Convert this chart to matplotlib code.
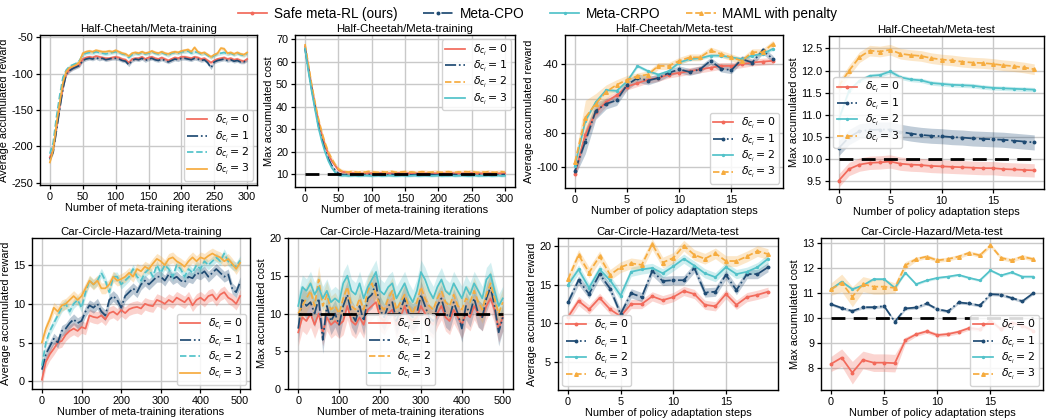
import numpy as np
import matplotlib
matplotlib.use("Agg")
import matplotlib.pyplot as plt
from matplotlib.lines import Line2D

plt.rcParams['font.family'] = ['Liberation Sans', 'DejaVu Sans']
plt.rcParams['axes.unicode_minus'] = False
plt.rcParams['mathtext.fontset'] = 'dejavusans'

# ---------------- colours / styles ----------------
C_RED = '#F26A5B'
C_BLUE = '#1F4B73'
C_CYAN = '#52C2C9'
C_ORANGE = '#F6AC3F'

METHODS = ["Safe meta-RL (ours)", "Meta-CPO", "Meta-CRPO", "MAML with penalty"]
DELTAS = [0, 1, 2, 3]
COST_LIMIT = 10

# ---------------- Half-Cheetah meta-training (x step 5, 0..300) ----------------
hc_train_x = np.arange(0, 301, 5)
hc_rew_d0 = [-215,-205,-175,-145,-118,-100,-95,-92,-90,-88,
             -80,-78,-77,-78,-76,-77,-78,-79,-79,-78,
             -77,-78,-80,-81,-85,-80,-79,-79,-77,-80,
             -78,-77,-79,-80,-78,-80,-82,-80,-78,-79,
             -77,-77,-78,-79,-77,-78,-80,-79,-82,-85,
             -82,-80,-79,-78,-80,-79,-81,-80,-82,-83,-80]
hc_rew_d1 = [-218,-208,-178,-148,-120,-100,-96,-93,-91,-89,
             -82,-80,-79,-80,-78,-80,-79,-81,-80,-79,
             -79,-80,-82,-83,-88,-82,-80,-81,-79,-82,
             -80,-79,-81,-82,-80,-82,-84,-82,-80,-81,
             -79,-79,-80,-81,-79,-80,-82,-81,-85,-92,
             -84,-82,-81,-80,-82,-81,-83,-82,-84,-84,-81]
hc_rew_d2 = [-210,-195,-160,-130,-105,-95,-90,-88,-86,-82,
             -74,-72,-71,-72,-70,-71,-72,-73,-72,-71,
             -70,-71,-73,-74,-78,-74,-72,-73,-71,-73,
             -72,-70,-72,-73,-71,-73,-75,-72,-71,-72,
             -70,-70,-69,-72,-70,-71,-73,-72,-75,-78,
             -75,-73,-72,-71,-73,-72,-74,-72,-74,-75,-72]
hc_rew_d3 = [-222,-205,-170,-140,-112,-97,-92,-90,-88,-84,
             -72,-70,-69,-70,-68,-69,-70,-70,-69,-70,
             -68,-70,-72,-73,-76,-72,-71,-72,-70,-72,
             -71,-69,-71,-72,-70,-72,-73,-71,-70,-71,
             -69,-68,-67,-70,-64,-70,-72,-71,-74,-77,
             -74,-72,-65,-66,-72,-71,-73,-71,-73,-74,-71]
hc_rew_std = [2.5, 2.5, 2.5, 2.5]

hc_cost_d0 = [67,58,49,41,34,28,23,19,16,14,
              12,11.2,11,10.8,10.6,10.5,10.6,10.4,10.5,10.6,
              10.5,10.4,10.5,10.6,10.4,10.5,10.5,10.4,10.6,10.5,
              10.4,10.5,10.6,10.5,10.4,10.5,10.4,10.5,10.6,10.4,
              10.5,10.5,10.4,10.5,10.6,10.4,10.5,10.4,10.5,10.5,
              10.6,10.4,10.5,10.4,10.5,10.5,10.4,10.5,10.4,10.5,10.5]
hc_cost_d1 = [66,57,48,40,32,26,21,17,14,12,
              10.5,10,9.9,10,9.8,9.9,10,9.8,9.9,10,
              9.9,9.8,9.9,10,9.8,9.9,10,9.9,9.8,9.9,
              10,9.9,9.8,9.9,10,9.9,9.8,9.9,10,9.8,
              9.9,10,9.9,9.8,9.9,10,9.8,9.9,10,9.9,
              9.8,9.9,10,9.9,9.8,9.9,10,9.8,9.9,9.9,10]
hc_cost_d2 = [68,59,50,42,35,29,24,20,17,14.5,
              12.5,11.5,11.2,11,11.3,11.1,10.9,11.2,11,11.3,
              11.1,11,10.9,11.2,11,11.1,11.3,11,10.9,11.1,
              11.2,11,11.1,10.9,11,11.2,11.1,10.9,11,11.2,
              11,10.9,11.1,11.2,11,10.9,11.1,11,11.2,11.1,
              11.3,11,10.9,11.1,11,11.2,11,10.9,11.1,11.2,11]
hc_cost_d3 = [66,56,47,39,31,25,20,16,13,11,
              9.6,9.4,9.5,9.3,9.4,9.5,9.3,9.4,9.5,9.4,
              9.3,9.4,9.5,9.3,9.4,9.5,9.4,9.3,9.4,9.5,
              9.4,9.3,9.4,9.5,9.3,9.4,9.5,9.4,9.3,9.4,
              9.5,9.3,9.4,9.4,9.5,9.3,9.4,9.5,9.4,9.3,
              9.4,9.5,9.3,9.4,9.4,9.5,9.3,9.4,9.5,9.3,9.4]
hc_cost_std = [0.8, 0.5, 0.9, 0.5]

# ---------------- Half-Cheetah meta-test (steps 0..19) ----------------
steps = np.arange(20)
hct_rew_d0 = [-104,-81,-68,-62,-58,-53,-51,-49,-48,-46,-45,-44,-43,-42,-41,-41,-40,-39,-38.5,-38]
hct_rew_d1 = [-102,-85,-67,-63,-61,-52,-48,-49.5,-48,-45,-43,-44.5,-43,-38,-42.5,-43.5,-37,-39,-32,-37]
hct_rew_d2 = [-99,-73,-62,-55,-55.5,-50,-41,-44,-46,-44,-39,-37,-36.5,-35,-35,-36,-37,-35,-34,-31]
hct_rew_d3 = [-97,-71,-63,-56,-52,-49,-47,-46,-41,-41,-38,-36,-36,-32,-34,-36,-38,-33,-33,-28]
hct_rew_std_d0 = [3,4,3,2.5,2.5,2,2,2,2,2,2,2,2,2,2,2,2,2,2,2]
hct_rew_std_d1 = [3,7,5,3,3,3,2.5,2.5,2,2,2,2,2,2,2,2,2,2,2,2]
hct_rew_std_d2 = [1,1,1,1,1,1,1,1,1,1,1,1,1,1,1,1,1,1,1,1]
hct_rew_std_d3 = [3,10,6,4,3,2.5,2,2,2,2,2,2,2,2,2,2,2,2,2,2]

hct_cost_d0 = [9.52,9.78,9.88,9.92,9.93,9.95,9.9,9.88,9.87,9.85,9.84,9.83,9.82,9.81,9.8,9.8,9.78,9.77,9.76,9.75]
hct_cost_d1 = [10.25,10.5,10.63,10.66,10.67,10.67,10.62,10.58,10.55,10.53,10.52,10.5,10.49,10.47,10.46,10.45,10.44,10.42,10.4,10.38]
hct_cost_d2 = [10.9,11.55,11.77,11.88,11.9,11.98,11.85,11.8,11.78,11.72,11.7,11.68,11.67,11.66,11.63,11.61,11.6,11.59,11.58,11.57]
hct_cost_d3 = [11.65,12.0,12.3,12.45,12.43,12.47,12.38,12.35,12.33,12.28,12.25,12.23,12.2,12.18,12.17,12.15,12.12,12.1,12.07,12.03]
hct_cost_std = [0.15, 0.17, 0.05, 0.12]

# ---------------- Car-Circle-Hazard meta-training (x step 10, 0..500) ----------------
cc_train_x = np.arange(0, 501, 10)
cc_rew_d0 = [0.2,2.5,3.5,4.2,5,5.2,6,6.5,6.8,6.5,
             7,6.8,8.5,8.3,8.2,8.5,8,8.8,9,8.6,
             9.2,8.8,9.3,9.5,9.6,9.4,10,9.8,9.7,10.5,
             10.3,10,10.5,10.2,10.8,10.5,10.2,10.8,9.8,10.5,
             10.8,10.4,11,11.2,10.5,11.2,11.5,10.8,10.5,10.0,11]
cc_rew_d1 = [1.5,3.5,4.5,5.5,5,6.5,6.8,7.5,8,7.5,
             7.8,9,9.8,9.5,10,9,8.5,10.5,11,10.5,
             9.5,11,11.5,12,11.5,12.5,13,12.5,13,13.5,
             13.5,13,13.8,13.2,13.5,13,12.8,13.5,13.3,14,
             13.8,14.2,13.5,14,14.5,14,13.5,13.8,12,11.5,12.8]
cc_rew_d2 = [2,5,6.5,7.5,8.5,9.5,10,9,10,10.5,
             9.5,11.5,13,12.5,13,14,13,11.5,13.5,13.5,
             12.5,13,13.5,14.5,13.5,13,14,14.5,13.5,15,
             14,15,14.5,13.5,15,14.5,13.5,14.5,14,15,
             14.5,15.5,15,15.5,16,15.5,16.5,15.5,15,14.8,15.6]
cc_rew_d3 = [5,6.8,8,9.5,9,9.8,10,10.5,11,10.5,
             11,12,13,12.5,13,12,12,12.5,13.5,13,
             13.2,13.5,14,13.5,14.5,14.2,14.8,14.5,15.2,15.8,
             15.5,15,15.8,16,15.5,15.2,14.8,15.5,16,15.5,
             16,15.8,16.2,16.5,16.2,16,15.5,15.8,15.2,14.5,15.3]
cc_rew_std = [0.8, 0.7, 0.6, 0.7]

cc_cost_d0 = [7.5,9.5,9,10,8.5,10,7.5,9.5,8.5,9,
              8.5,9,11,9,8.5,9.5,8.5,10.5,11,11.5,
              9.5,9,10,10.5,8.5,9.5,11,9.5,9,9.5,
              11,10,9,8.5,10,11,9.5,9,10.5,9.5,
              8.5,10,9.5,11,10,9.5,11,12,10.5,8,9.5]
cc_cost_d1 = [8,12,11,11.5,10,12,6.5,11,9,10,
              8.5,11,12.5,10,9,11,9,12,12.5,14,
              10.5,9.5,11,11.5,9,10.5,12,10,9.5,10,
              12.5,11,9.5,9,11,12,10,9.5,11.5,10,
              8,11,10,12,10,9.5,12,13.5,11,7.5,9.5]
cc_cost_d2 = [10,11,12,13,11,14.5,11,12.5,10.5,11,
              10,12,13.5,11,10.5,12,10.5,13,14,12.5,
              11,10.5,12,13,10.5,11.5,12.5,11,10,11.5,
              13.5,12,11,10.5,12,13,11.5,11,12.5,11,
              10.5,12,11.5,13,11.5,10.5,12.5,14,12,10,11.5]
cc_cost_d3 = [11,13.5,13,14,12.5,13.5,12,13,11.5,12,
              11.5,14,15,13,12.5,14,12,13.5,14.5,15.5,
              13,12.5,13.5,14,12,13,14,12.5,11.5,13,
              15.5,14.5,13,12,13.5,14.5,13,12.5,14,13,
              12,13.5,12.5,14,13,12,14.5,15.2,13,11,12]
cc_cost_std = [1.8, 1.8, 1.8, 1.6]

# ---------------- Car-Circle-Hazard meta-test (steps 0..19) ----------------
cct_rew_d0 = [10.8,12.9,11.8,13.3,11.8,10.9,12.5,12.5,13.5,13.0,13.4,14.2,13.8,12.4,12.2,13.8,12.4,13.4,13.7,14.1]
cct_rew_d1 = [12.7,15.6,13.8,16.4,14.5,11.2,13.9,13.4,16.8,15.5,15.6,15.6,17.2,14.0,14.1,16.3,14.3,16.4,16.4,17.3]
cct_rew_d2 = [15.0,17.0,14.6,17.0,15.6,13.6,16.7,17.0,17.2,16.5,17.4,18.4,17.5,16.5,16.0,17.3,16.4,16.7,17.3,18.4]
cct_rew_d3 = [15.7,18.9,16.6,18.7,16.3,17.3,17.8,17.6,20.3,17.9,18.5,20.1,18.9,18.4,19.1,18.1,18.1,18.7,19.4,19.0]
cct_rew_std = [0.6, 0.6, 0.6, 0.7]

cct_cost_d0 = [8.17,8.42,7.82,8.33,8.22,8.22,8.2,9.12,9.35,9.47,9.32,9.36,9.45,9.6,9.55,9.9,9.55,9.82,9.7,9.5]
cct_cost_d1 = [10.55,10.4,10.28,10.43,10.43,10.47,9.85,10.38,10.42,10.58,10.35,10.27,10.62,10.58,10.5,10.95,10.93,10.8,10.67,10.98]
cct_cost_d2 = [11.15,11.45,11.15,11.3,11.55,11.55,11.2,11.8,11.35,11.5,11.6,11.65,11.72,11.6,11.5,11.9,11.7,11.82,11.65,11.65]
cct_cost_d3 = [11.15,11.4,10.85,11.35,11.25,11.25,11.2,12.1,12.35,12.45,12.3,12.35,12.45,12.6,12.5,12.9,12.4,12.3,12.45,12.35]
cct_cost_std_d0 = [0.3,0.35,0.45,0.35,0.35,0.35,0.35,0.12,0.08,0.08,0.08,0.08,0.08,0.08,0.08,0.08,0.08,0.08,0.08,0.08]
cct_cost_std_d1 = [0.06]*20
cct_cost_std_d2 = [0.05]*20
cct_cost_std_d3 = [0.25,0.35,0.4,0.3,0.3,0.3,0.2,0.15,0.08,0.08,0.08,0.08,0.08,0.08,0.08,0.08,0.08,0.08,0.08,0.08]

# ---------------- figure ----------------
W, H = 1046, 419
fig = plt.figure(figsize=(W / 100, H / 100), dpi=100)


def box(l, t, r, b):
    return [l / W, 1 - b / H, (r - l) / W, (b - t) / H]


FS_TICK = 7.8
FS_LABEL = 7.9
FS_TITLE = 8.2
FS_LEG = 7.8


def style_ax(ax, title, xlabel, ylabel):
    ax.set_facecolor('white')
    ax.grid(True, color='#c9c9c9', linewidth=1.0)
    ax.set_axisbelow(True)
    for s in ax.spines.values():
        s.set_color('black')
        s.set_linewidth(1.0)
    ax.tick_params(direction='out', length=3, width=0.9, labelsize=FS_TICK, colors='black', pad=2)
    ax.set_title(title, fontsize=FS_TITLE, pad=2.5)
    ax.set_xlabel(xlabel, fontsize=FS_LABEL, labelpad=1)
    ax.set_ylabel(ylabel, fontsize=FS_LABEL, labelpad=1.5)


def dl(d):
    return r'$\delta_{c_i}=%d$' % d


def band(ax, x, y, s, color, alpha=0.3):
    y = np.asarray(y, float)
    s = np.asarray(s, float) if np.ndim(s) else s
    ax.fill_between(x, y - s, y + s, color=color, alpha=alpha, linewidth=0)


LW = 1.25

train_style_a = [(C_RED, '-'), (C_BLUE, '-.'), (C_CYAN, '--'), (C_ORANGE, '-')]
train_style_b = [(C_RED, '-'), (C_BLUE, '-.'), (C_ORANGE, '--'), (C_CYAN, '-')]
test_style = [(C_RED, '-', 'o', 1.8), (C_BLUE, '-.', 'o', 1.8), (C_CYAN, '-', 'o', 1.4), (C_ORANGE, '--', '^', 2.6)]


def legend(ax, loc, **kw):
    lg = ax.legend(loc=loc, fontsize=FS_LEG, handlelength=1.9, borderpad=0.3,
                   labelspacing=0.12, handletextpad=0.7, borderaxespad=0.4,
                   framealpha=0.85, **kw)
    lg.get_frame().set_edgecolor('#cccccc')
    return lg


# ---- 1: HC training reward
ax = fig.add_axes(box(40, 35, 257, 185))
for d, y, (c, ls), s in zip(DELTAS, [hc_rew_d0, hc_rew_d1, hc_rew_d2, hc_rew_d3], train_style_a, hc_rew_std):
    band(ax, hc_train_x, y, s, c)
    ax.plot(hc_train_x, y, color=c, ls=ls, lw=LW, label=dl(d))
ax.set_xlim(-15, 315)
ax.set_ylim(-253, -47)
ax.set_xticks([0, 50, 100, 150, 200, 250, 300])
ax.set_yticks([-250, -200, -150, -100, -50])
style_ax(ax, 'Half-Cheetah/Meta-training', 'Number of meta-training iterations', 'Average accumulated reward')
legend(ax, 'lower right')

# ---- 2: HC training cost
ax = fig.add_axes(box(295, 35, 515, 187))
for d, y, (c, ls), s in zip(DELTAS, [hc_cost_d0, hc_cost_d1, hc_cost_d2, hc_cost_d3], train_style_b, hc_cost_std):
    band(ax, hc_train_x, y, s, c)
    ax.plot(hc_train_x, y, color=c, ls=ls, lw=LW, label=dl(d))
ax.plot([hc_train_x[0], hc_train_x[-1]], [COST_LIMIT, COST_LIMIT], color='black', ls=(0, (5, 3)), lw=2)
ax.set_xlim(-15, 315)
ax.set_ylim(4.4, 72)
ax.set_xticks([0, 50, 100, 150, 200, 250, 300])
ax.set_yticks([10, 20, 30, 40, 50, 60, 70])
style_ax(ax, 'Half-Cheetah/Meta-training', 'Number of meta-training iterations', 'Max accumulated cost')
legend(ax, 'upper right')


def test_plot(ax, ys, stds):
    for d, y, (c, ls, mk, ms), s in zip(DELTAS, ys, test_style, stds):
        band(ax, steps, y, s, c, alpha=0.28)
        ax.plot(steps, y, color=c, ls=ls, lw=LW, marker=mk, ms=ms, label=dl(d))
    ax.set_xlim(-0.95, 19.95)
    ax.set_xticks([0, 5, 10, 15])


# ---- 3: HC test reward
ax = fig.add_axes(box(565, 35, 783, 188))
test_plot(ax, [hct_rew_d0, hct_rew_d1, hct_rew_d2, hct_rew_d3],
          [hct_rew_std_d0, hct_rew_std_d1, hct_rew_std_d2, hct_rew_std_d3])
ax.set_ylim(-112, -23)
ax.set_yticks([-100, -80, -60, -40])
style_ax(ax, 'Half-Cheetah/Meta-test', 'Number of policy adaptation steps', 'Average accumulated reward')
legend(ax, 'lower right')

# ---- 4: HC test cost
ax = fig.add_axes(box(829, 36, 1044, 189))
test_plot(ax, [hct_cost_d0, hct_cost_d1, hct_cost_d2, hct_cost_d3], hct_cost_std)
ax.plot([steps[0], steps[-1]], [COST_LIMIT, COST_LIMIT], color='black', ls=(0, (5, 3)), lw=2)
ax.set_ylim(9.33, 12.78)
ax.set_yticks([9.5, 10.0, 10.5, 11.0, 11.5, 12.0, 12.5])
style_ax(ax, 'Half-Cheetah/Meta-test', 'Number of policy adaptation steps', 'Max accumulated cost')
legend(ax, 'center left')

# ---- 5: CC training reward
ax = fig.add_axes(box(32, 238, 250, 389))
for d, y, (c, ls), s in zip(DELTAS, [cc_rew_d0, cc_rew_d1, cc_rew_d2, cc_rew_d3], train_style_a, cc_rew_std):
    band(ax, cc_train_x, y, s, c)
    ax.plot(cc_train_x, y, color=c, ls=ls, lw=LW, label=dl(d))
ax.set_xlim(-25, 525)
ax.set_ylim(-1, 18.5)
ax.set_xticks([0, 100, 200, 300, 400, 500])
ax.set_yticks([0, 5, 10, 15])
style_ax(ax, 'Car-Circle-Hazard/Meta-training', 'Number of meta-training iterations', 'Average accumulated reward')
legend(ax, 'lower right')

# ---- 6: CC training cost
ax = fig.add_axes(box(288, 238, 513, 389))
for d, y, (c, ls), s in zip(DELTAS, [cc_cost_d0, cc_cost_d1, cc_cost_d2, cc_cost_d3], train_style_b, cc_cost_std):
    band(ax, cc_train_x, y, s, c, alpha=0.25)
    ax.plot(cc_train_x, y, color=c, ls=ls, lw=LW, label=dl(d))
ax.plot([cc_train_x[0], cc_train_x[-1]], [COST_LIMIT, COST_LIMIT], color='black', ls=(0, (5, 3)), lw=2)
ax.set_xlim(-25, 525)
ax.set_ylim(0, 20)
ax.set_xticks([0, 100, 200, 300, 400, 500])
ax.set_yticks([0, 5, 10, 15, 20])
style_ax(ax, 'Car-Circle-Hazard/Meta-training', 'Number of meta-training iterations', 'Max accumulated cost')
legend(ax, 'lower center')

# ---- 7: CC test reward
ax = fig.add_axes(box(558, 238, 778, 390))
test_plot(ax, [cct_rew_d0, cct_rew_d1, cct_rew_d2, cct_rew_d3], cct_rew_std)
ax.set_ylim(1.3, 21.1)
ax.set_yticks([5, 10, 15, 20])
style_ax(ax, 'Car-Circle-Hazard/Meta-test', 'Number of policy adaptation steps', 'Average accumulated reward')
legend(ax, 'lower left')

# ---- 8: CC test cost
ax = fig.add_axes(box(821, 238, 1043, 390))
test_plot(ax, [cct_cost_d0, cct_cost_d1, cct_cost_d2, cct_cost_d3],
          [cct_cost_std_d0, cct_cost_std_d1, cct_cost_std_d2, cct_cost_std_d3])
ax.plot([steps[0], steps[-1]], [COST_LIMIT, COST_LIMIT], color='black', ls=(0, (5, 3)), lw=2)
ax.set_ylim(7.13, 13.19)
ax.set_yticks([8, 9, 10, 11, 12, 13])
style_ax(ax, 'Car-Circle-Hazard/Meta-test', 'Number of policy adaptation steps', 'Max accumulated cost')
legend(ax, 'lower right')

# ---- top legend
handles = [Line2D([], [], color=c, ls=ls, lw=LW, marker=mk, ms=ms) for (c, ls, mk, ms) in test_style]
fig.legend(handles, METHODS, loc='upper center', bbox_to_anchor=(0.514, 1.0), ncol=4,
           frameon=False, fontsize=9.8, handlelength=2.15, handletextpad=0.5,
           columnspacing=1.9, borderaxespad=0.1)

fig.savefig('out.png', dpi=100)
